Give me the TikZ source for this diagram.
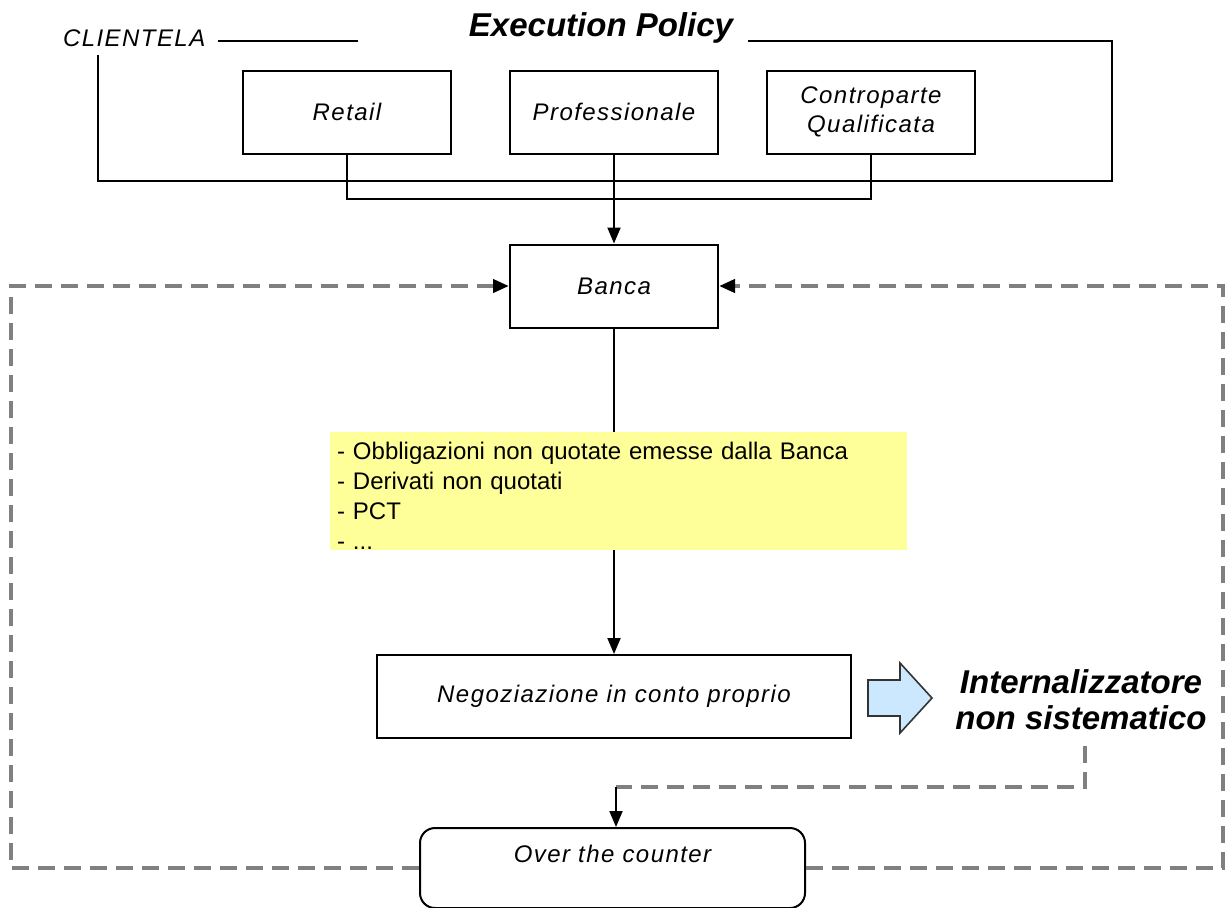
\documentclass[tikz,border=0pt]{standalone}
\usepackage{fontspec}
\setmainfont{Liberation Sans}
\newfontfamily\boxfont[LetterSpace=6.0]{Liberation Sans}
\usepackage{xcolor}
\usetikzlibrary{arrows.meta, positioning}
\definecolor{notegelb}{RGB}{255,255,153}
\definecolor{pfeilblau}{RGB}{204,232,255}
\definecolor{strichgrau}{RGB}{128,128,128}
\begin{document}
\begin{tikzpicture}[x=0.5pt, y=-0.5pt,
    box/.style={draw, line width=1pt, minimum width=104pt, minimum height=41.5pt, inner sep=0pt,
      align=center, font=\boxfont\itshape\fontsize{12}{14.5}\selectfont},
    link/.style={line width=1pt, -{Triangle[length=8pt,width=6.5pt]}},
    loopline/.style={draw=strichgrau, line width=2pt, dash pattern=on 8.5pt off 4.5pt,
      -{Triangle[length=8pt,width=6.5pt,color=black]}}]
    \useasboundingbox (0,0) rectangle (1225,907);
    \clip (0,0) rectangle (1225,907);
     %row 1
     \node[font=\boxfont\itshape\fontsize{12}{14}\selectfont, anchor=west] (clientela) at (56,38) {CLIENTELA};
     \node[font=\bfseries\itshape\fontsize{16.5}{18}\selectfont] (policy) at (601,28) {Execution Policy};
     \draw[line width=1pt] (218,41) -- (358,41);
     \draw[line width=1pt] (98,55) -- (98,181) -- (1112,181) -- (1112,41) -- (748,41);
     \node[box] (retail) at (347,112) {Retail};
     \node[box] (profess) at (614,112) {Professionale};
     \node[box] (controp) at (871,112) {Controparte\\Qualificata};
         %row 2
     \node[box] (banca) at (614,286) {Banca};
         %row 3
     \node[fill=notegelb, minimum width=288.5pt, minimum height=59pt, inner xsep=3.5pt, inner ysep=0pt,
       text width=281.5pt, align=left, font=\fontsize{12}{15}\selectfont] (strumenti) at (618.5,491)
       {\rule{0pt}{13pt}- Obbligazioni non quotate emesse dalla Banca\\- Derivati non quotati\\- PCT\\- ...};
         %row 4
     \node[box, minimum width=237pt] (negoz) at (614,696.5) {Negoziazione in conto proprio};
     \coordinate (freccia) at (868,698);
     \draw[fill=pfeilblau, draw=black!80, line width=0.8pt] (freccia) ++(0,-18) -- ++(32,0) -- ++(0,-17)
       -- ++(32,35) -- ++(-32,35) -- ++(0,-17) -- ++(-32,0) -- cycle;
     \node[font=\bfseries\itshape\fontsize{16.5}{18}\selectfont, align=center] (internal) at (1081,700)
       {Internalizzatore\\non sistematico};
     \coordinate (internalfuss) at (1085,746);
     \coordinate (knick) at (616,787);
         %row 5
     \node[box, rounded corners=7.5pt, minimum width=192.5pt, minimum height=0pt, inner ysep=8.25pt,
       text height=9pt, text depth=14.5pt, anchor=north] (otc) at (612.5,827) {Over the counter};
     % connectors
     \draw[line width=1pt] (retail.south) -- ++(0,44) -| (controp.south);
     \draw[link] (profess) -- (banca);
     \draw[loopline] (otc.west) -- ++(-408,0) |- (banca.west);
     \draw[loopline] (otc.east) -- ++(417,0) |- (banca.east);
     \draw[line width=1pt] (banca.south) -- (banca.south |- strumenti.north);
     \draw[link] (strumenti.south -| banca) -- (negoz);
     \draw[loopline, -] (internalfuss) |- (knick);
     \draw[link] (knick) -- (knick |- otc.north);
\end{tikzpicture}
\end{document}
